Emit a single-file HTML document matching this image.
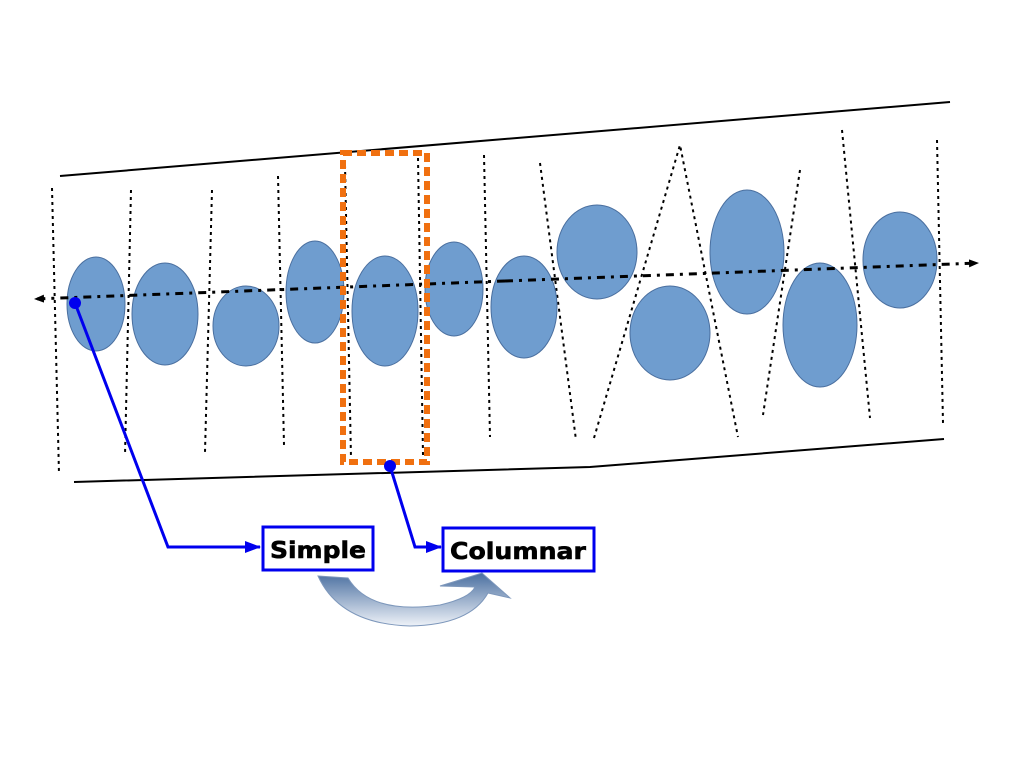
<!DOCTYPE html>
<html><head><style>body{margin:0;background:#fff}svg{display:block}</style></head><body>
<svg width="1024" height="768" viewBox="0 0 1024 768" xmlns="http://www.w3.org/2000/svg">
<defs>
<linearGradient id="g" x1="0" y1="0" x2="0" y2="1"><stop offset="0" stop-color="#4a6fa0"/><stop offset="1" stop-color="#eef2f8"/></linearGradient>
<marker id="bk" markerWidth="10" markerHeight="8" refX="9" refY="4" orient="auto" markerUnits="userSpaceOnUse"><path d="M0,0L10,4L0,8z" fill="#000"/></marker>
<marker id="bl" markerWidth="16" markerHeight="12" refX="15" refY="6" orient="auto" markerUnits="userSpaceOnUse"><path d="M0,0L16,6L0,12z" fill="#0000ee"/></marker>
</defs>
<path d="M60,176 Q500,140 950,102" fill="none" stroke="#000" stroke-width="2"/>
<path d="M74,482 L590,467 L944,439" fill="none" stroke="#000" stroke-width="2"/>
<g stroke="#000" stroke-width="2" stroke-dasharray="3,4" fill="none">
<line x1="52" y1="188" x2="59" y2="474"/>
<line x1="131" y1="190" x2="125" y2="455"/>
<line x1="212" y1="190" x2="205" y2="452"/>
<line x1="278" y1="176" x2="284" y2="445"/>
<line x1="345" y1="165" x2="351" y2="458"/>
<line x1="418" y1="158" x2="423" y2="455"/>
<line x1="484" y1="155" x2="490" y2="437"/>
<line x1="540" y1="163" x2="576" y2="440"/>
<polyline points="594,438 680,145 738,437"/>
<line x1="800" y1="170" x2="763" y2="415"/>
<line x1="842" y1="130" x2="870" y2="418"/>
<line x1="937" y1="140" x2="943" y2="423"/>
</g>
<g fill="#6f9dcf" stroke="#4a6f9f" stroke-width="1">
<ellipse cx="96" cy="304" rx="29" ry="47"/>
<ellipse cx="165" cy="314" rx="33" ry="51"/>
<ellipse cx="246" cy="326" rx="33" ry="40"/>
<ellipse cx="315" cy="292" rx="29" ry="51"/>
<ellipse cx="385" cy="311" rx="33" ry="55"/>
<ellipse cx="454" cy="289" rx="29" ry="47"/>
<ellipse cx="524" cy="307" rx="33" ry="51"/>
<ellipse cx="597" cy="252" rx="40" ry="47"/>
<ellipse cx="670" cy="333" rx="40" ry="47"/>
<ellipse cx="747" cy="252" rx="37" ry="62"/>
<ellipse cx="820" cy="325" rx="37" ry="62"/>
<ellipse cx="900" cy="260" rx="37" ry="48"/>
</g>
<line x1="505" y1="281" x2="35" y2="299" stroke="#000" stroke-width="3" stroke-dasharray="8,6,3,6" marker-end="url(#bk)"/>
<line x1="505" y1="281" x2="978" y2="263" stroke="#000" stroke-width="3" stroke-dasharray="8,6,3,6" marker-end="url(#bk)"/>
<rect x="343" y="153" width="84" height="309" fill="none" stroke="#f07010" stroke-width="6" stroke-dasharray="9,5"/>
<polyline points="75,303 168,547 260,547" fill="none" stroke="#0000ee" stroke-width="3" marker-end="url(#bl)"/>
<polyline points="390,466 415,547 441,547" fill="none" stroke="#0000ee" stroke-width="3" marker-end="url(#bl)"/>
<circle cx="75" cy="303" r="6" fill="#0000ee"/>
<circle cx="390" cy="466" r="6" fill="#0000ee"/>
<rect x="263" y="527" width="110" height="43" fill="#fff" stroke="#0000ee" stroke-width="3"/>
<rect x="443" y="528" width="151" height="43" fill="#fff" stroke="#0000ee" stroke-width="3"/>
<text x="318" y="558" text-anchor="middle" font-family="DejaVu Sans, sans-serif" font-weight="bold" font-size="23" stroke="#000" stroke-width="0.6" textLength="96" lengthAdjust="spacingAndGlyphs">Simple</text>
<text x="518" y="559" text-anchor="middle" font-family="DejaVu Sans, sans-serif" font-weight="bold" font-size="23" stroke="#000" stroke-width="0.6" textLength="136" lengthAdjust="spacingAndGlyphs">Columnar</text>
<path d="M318,576 L348,578 Q370,615 440,605 Q470,598 475,587 L440,586 L482,573 L510,598 L488,593 Q470,625 410,626 Q340,624 318,576 Z" fill="url(#g)" stroke="#7d97bb" stroke-width="1"/>
</svg>
</body></html>
